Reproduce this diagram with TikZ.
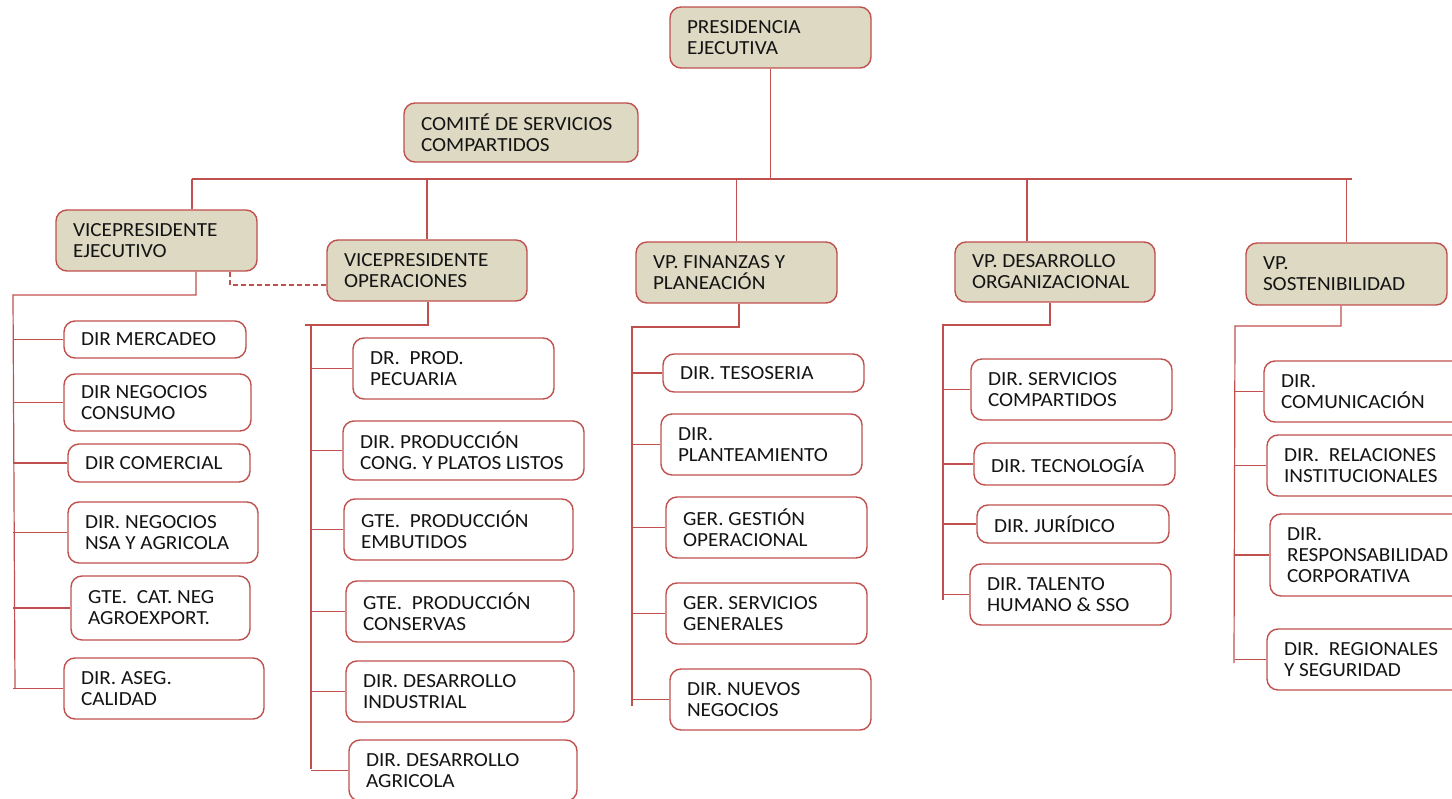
\documentclass[tikz,border=0pt]{standalone}
\usepackage{fontspec}
\setmainfont{Carlito}[FakeStretch=1.06]
\frenchspacing
\definecolor{bred}{HTML}{C0504D}
\definecolor{beige}{HTML}{DDD9C3}
\definecolor{txt}{HTML}{141414}
\tikzset{
  base/.style={draw=bred, line width=1.4pt, rounded corners=11pt, inner xsep=17pt, inner ysep=2pt,
     align=left, text=txt, font=\fontsize{20}{21}\selectfont\frenchspacing, anchor=center},
  vpbox/.style={base, fill=beige},
  dirbox/.style={base, fill=white},
  link/.style={draw=bred, line width=1.2pt},
  dlink/.style={link, dash pattern=on 5pt off 3pt}
}
\newcommand\orgbox[7]{%
  \pgfmathsetmacro\obw{#5-#3}%
  \pgfmathsetmacro\obh{#6-#4}%
  \pgfmathsetmacro\otw{#5-#3-34}%
  \pgfmathsetmacro\obx{(#3+#5)/2}%
  \pgfmathsetmacro\oby{(#4+#6)/2}%
  \node[#1, minimum width=\obw pt, minimum height=\obh pt, text width=\otw pt] (#2) at (\obx,\oby)
    {\spaceskip=0pt\xspaceskip=0pt\hyphenpenalty=10000\exhyphenpenalty=10000\rightskip=0pt plus 1fil\relax #7};%
}
\begin{document}
\begin{tikzpicture}[x=1pt,y=-1pt]
\useasboundingbox (0,0) rectangle (1452,799);
\clip (0,0) rectangle (1452,799);

% top level
\orgbox{vpbox}{pres}{670}{7}{871}{68}{PRESIDENCIA\\EJECUTIVA}
\orgbox{vpbox}{comite}{404}{103}{638}{162}{COMITÉ DE SERVICIOS\\COMPARTIDOS}

% vice presidents
\orgbox{vpbox}{vpe}{56}{210}{257}{271}{VICEPRESIDENTE\\EJECUTIVO}
\orgbox{vpbox}{vpo}{327}{240}{527}{301}{VICEPRESIDENTE\\OPERACIONES}
\orgbox{vpbox}{vpf}{636}{242}{837}{303}{VP. FINANZAS Y\\PLANEACIÓN}
\orgbox{vpbox}{vpd}{955}{242}{1155}{302}{VP. DESARROLLO\\ORGANIZACIONAL}
\orgbox{vpbox}{vps}{1246}{243}{1447}{305}{VP.\\SOSTENIBILIDAD}

% group 1
\orgbox{dirbox}{a1}{64}{321}{246}{358}{DIR MERCADEO}
\orgbox{dirbox}{a2}{64}{374}{251}{431}{DIR NEGOCIOS\\CONSUMO}
\orgbox{dirbox}{a3}{68}{444}{250}{482}{DIR COMERCIAL}
\orgbox{dirbox}{a4}{68}{502}{258}{563}{DIR. NEGOCIOS\\NSA Y AGRICOLA}
\orgbox{dirbox}{a5}{71}{576}{250}{640}{GTE.\ \ CAT. NEG\\AGROEXPORT.}
\orgbox{dirbox}{a6}{64}{658}{264}{719}{DIR. ASEG.\\CALIDAD}

% group 2
\orgbox{dirbox}{b1}{353}{338}{554}{399}{DR.\ \ PROD.\\PECUARIA}
\orgbox{dirbox}{b2}{343}{421}{584}{480}{DIR. PRODUCCIÓN\\CONG. Y PLATOS LISTOS}
\orgbox{dirbox}{b3}{344}{499}{573}{560}{GTE.\ \ PRODUCCIÓN\\EMBUTIDOS}
\orgbox{dirbox}{b4}{346}{581}{574}{642}{GTE.\ \ PRODUCCIÓN\\CONSERVAS}
\orgbox{dirbox}{b5}{346}{661}{574}{722}{DIR. DESARROLLO\\INDUSTRIAL}
\orgbox{dirbox}{b6}{349}{740}{577}{801}{DIR. DESARROLLO\\AGRICOLA}

% group 3
\orgbox{dirbox}{c1}{663}{354}{864}{392}{DIR. TESOSERIA}
\orgbox{dirbox}{c2}{661}{414}{862}{475}{DIR.\\PLANTEAMIENTO}
\orgbox{dirbox}{c3}{666}{497}{867}{558}{GER. GESTIÓN\\OPERACIONAL}
\orgbox{dirbox}{c4}{666}{583}{867}{644}{GER. SERVICIOS\\GENERALES}
\orgbox{dirbox}{c5}{670}{669}{871}{730}{DIR. NUEVOS\\NEGOCIOS}

% group 4
\orgbox{dirbox}{d1}{971}{359}{1172}{420}{DIR. SERVICIOS\\COMPARTIDOS}
\orgbox{dirbox}{d2}{974}{443}{1175}{485}{DIR. TECNOLOGÍA}
\orgbox{dirbox}{d3}{977}{505}{1169}{543}{DIR. JURÍDICO}
\orgbox{dirbox}{d4}{970}{564}{1171}{625}{DIR. TALENTO\\HUMANO \& SSO}

% group 5
\orgbox{dirbox}{e1}{1264}{361}{1480}{422}{DIR.\\COMUNICACIÓN}
\orgbox{dirbox}{e2}{1267}{435}{1480}{496}{DIR.\ \ RELACIONES\\INSTITUCIONALES}
\orgbox{dirbox}{e3}{1270}{514}{1480}{596}{DIR.\\RESPONSABILIDAD\\CORPORATIVA}
\orgbox{dirbox}{e4}{1267}{629}{1480}{690}{DIR.\ \ REGIONALES\\Y SEGURIDAD}

% top connectors
\coordinate (hL) at (192,179);
\coordinate (hR) at (1352,179);
\coordinate (xd) at (1027,179);
\draw[link] (pres.south) -- (pres.south |- hL);
\draw[link] (hL) -- (hR);
\draw[link] (hL) -- (hL |- vpe.north);
\draw[link] (vpo.north |- hL) -- (vpo.north);
\draw[link] (vpf.north |- hL) -- (vpf.north);
\draw[link] (xd) -- (xd |- vpd.north);
\draw[link] (vps.north |- hL) -- (vps.north);

% dashed link
\coordinate (dA) at (230,285);
\draw[dlink] (vpe.south -| dA) -- (dA) -- (vpo.west |- dA);

% group 1 connectors
\coordinate (g1v) at (196,295);
\coordinate (t1) at (13,295);
\coordinate (t1b) at (15,689);
\draw[link] (vpe.south -| g1v) -- (g1v) -- (t1) -- (t1b);
\foreach \n in {a1,a2,a3,a4,a5,a6} \draw[link] (\n.west -| t1) -- (\n.west);

% group 2 connectors
\coordinate (g2v) at (428,325);
\coordinate (h2) at (305,325);
\coordinate (t2) at (311,325);
\coordinate (t2b) at (311,769);
\draw[link] (vpo.south -| g2v) -- (g2v) -- (h2);
\draw[link] (t2) -- (t2b);
\foreach \n in {b1,b2,b3,b4,b5,b6} \draw[link] (\n.west -| t2) -- (\n.west);

% group 3 connectors
\coordinate (g3v) at (739,327);
\coordinate (t3) at (632,327);
\coordinate (t3b) at (632,706);
\draw[link] (vpf.south -| g3v) -- (g3v) -- (t3) -- (t3b);
\foreach \n in {c1,c2,c3,c4,c5} \draw[link] (\n.west -| t3) -- (\n.west);

% group 4 connectors
\coordinate (g4v) at (1050,325);
\coordinate (t4) at (943,325);
\coordinate (t4b) at (943,600);
\draw[link] (vpd.south -| g4v) -- (g4v) -- (t4) -- (t4b);
\foreach \n in {d1,d2,d3,d4} \draw[link] (\n.west -| t4) -- (\n.west);

% group 5 connectors
\coordinate (g5v) at (1341,326);
\coordinate (t5) at (1235,326);
\coordinate (t5b) at (1234,663);
\draw[link] (vps.south -| g5v) -- (g5v) -- (t5) -- (t5b);
\foreach \n in {e1,e2,e3,e4} \draw[link] (\n.west -| t5) -- (\n.west);
\end{tikzpicture}
\end{document}
